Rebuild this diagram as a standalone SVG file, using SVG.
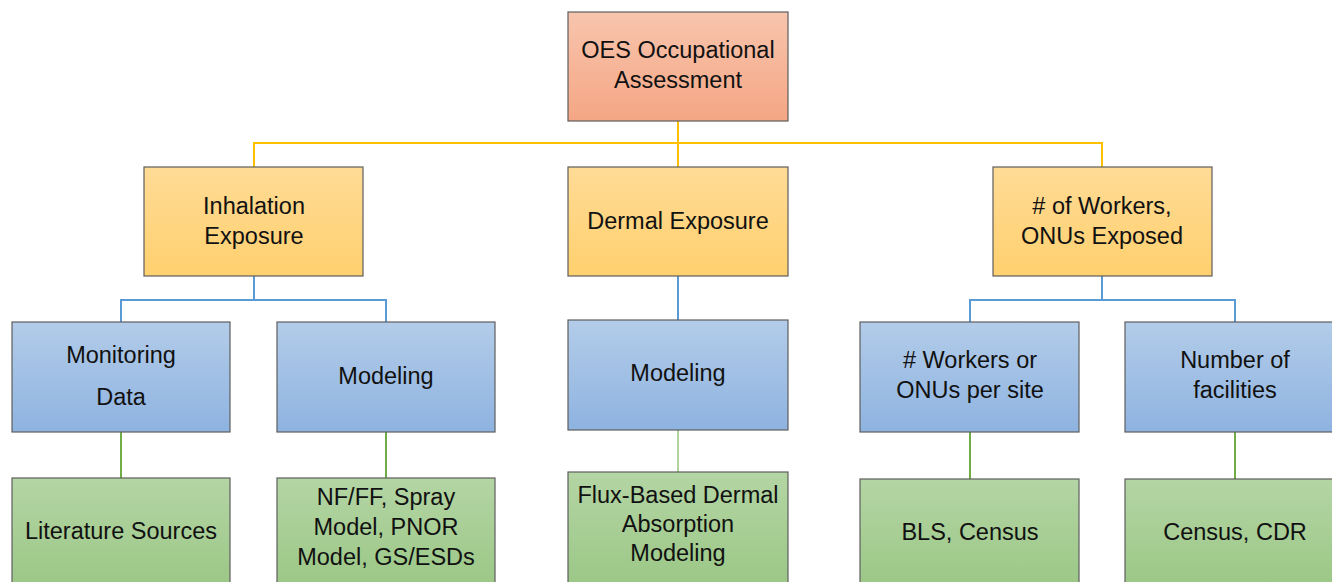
<svg xmlns="http://www.w3.org/2000/svg" width="1332" height="582" viewBox="0 0 1332 582">
<defs>
<linearGradient id="gOrange" x1="0" y1="0" x2="0" y2="1"><stop offset="0" stop-color="#F8C5AE"/><stop offset="1" stop-color="#F4A684"/></linearGradient>
<linearGradient id="gYellow" x1="0" y1="0" x2="0" y2="1"><stop offset="0" stop-color="#FFDB96"/><stop offset="1" stop-color="#FFD06E"/></linearGradient>
<linearGradient id="gBlue" x1="0" y1="0" x2="0" y2="1"><stop offset="0" stop-color="#B3CCE9"/><stop offset="1" stop-color="#8EB3E0"/></linearGradient>
<linearGradient id="gGreen" x1="0" y1="0" x2="0" y2="1"><stop offset="0" stop-color="#B4D5A4"/><stop offset="1" stop-color="#9BC786"/></linearGradient>
</defs>
<style>
rect{stroke:#5E5E5E;stroke-width:1.2}
.o{fill:url(#gOrange)}
.y{fill:url(#gYellow)}
.b{fill:url(#gBlue)}
.g{fill:url(#gGreen)}
text{font-family:"Liberation Sans",Arial,sans-serif;font-size:23.5px;fill:#111111;text-anchor:middle}
.cy{fill:none;stroke:#FFC000;stroke-width:2}
.cb{fill:none;stroke:#5B9BD5;stroke-width:2}
.cg{fill:none;stroke:#70AD47;stroke-width:2}
.cgt{fill:none;stroke:#7DB85A;stroke-width:1.2}
</style>
<g id="connectors">
<path class="cy" d="M678,121 V143 M254,167 V143 H1102 V167 M678,143 V167"/>
<path class="cb" d="M254,276 V300 M121,322 V300 H386 V322 M678,276 V320 M1102,276 V300 M970,322 V300 H1235 V322"/>
<path class="cg" d="M121,432 V478 M386,432 V478 M970,432 V479 M1235,432 V479"/>
<path class="cgt" d="M678,430 V472"/>
</g>
<g id="n-oes"><rect class="o" x="568" y="12" width="220" height="109"/><text x="678" y="58">OES Occupational</text><text x="678" y="88">Assessment</text></g>
<g id="n-inhal"><rect class="y" x="144" y="167" width="219" height="109"/><text x="254" y="214">Inhalation</text><text x="254" y="244">Exposure</text></g>
<g id="n-dermal"><rect class="y" x="568" y="167" width="220" height="109"/><text x="678" y="229">Dermal Exposure</text></g>
<g id="n-workers"><rect class="y" x="993" y="167" width="219" height="109"/><text x="1102" y="214"># of Workers,</text><text x="1102" y="244">ONUs Exposed</text></g>
<g id="n-monitor"><rect class="b" x="12" y="322" width="218" height="110"/><text x="121" y="363">Monitoring</text><text x="121" y="405">Data</text></g>
<g id="n-model1"><rect class="b" x="277" y="322" width="218" height="110"/><text x="386" y="384">Modeling</text></g>
<g id="n-model2"><rect class="b" x="568" y="320" width="220" height="110"/><text x="678" y="381">Modeling</text></g>
<g id="n-persite"><rect class="b" x="860" y="322" width="219" height="110"/><text x="970" y="368"># Workers or</text><text x="970" y="398">ONUs per site</text></g>
<g id="n-facil"><rect class="b" x="1125" y="322" width="220" height="110"/><text x="1235" y="368">Number of</text><text x="1235" y="398">facilities</text></g>
<g id="n-lit"><rect class="g" x="12" y="478" width="218" height="110"/><text x="121" y="539">Literature Sources</text></g>
<g id="n-nfff"><rect class="g" x="277" y="478" width="218" height="110"/><text x="386" y="505">NF/FF, Spray</text><text x="386" y="535">Model, PNOR</text><text x="386" y="565">Model, GS/ESDs</text></g>
<g id="n-flux"><rect class="g" x="568" y="472" width="220" height="116"/><text x="678" y="503">Flux-Based Dermal</text><text x="678" y="532">Absorption</text><text x="678" y="561">Modeling</text></g>
<g id="n-bls"><rect class="g" x="860" y="479" width="219" height="110"/><text x="970" y="540">BLS, Census</text></g>
<g id="n-cdr"><rect class="g" x="1125" y="479" width="220" height="110"/><text x="1235" y="540">Census, CDR</text></g>
</svg>
